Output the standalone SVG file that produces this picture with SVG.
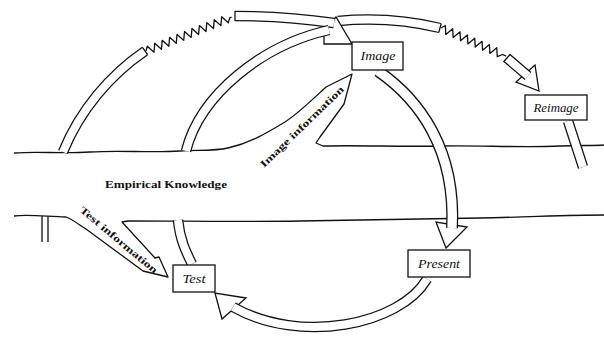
<svg xmlns="http://www.w3.org/2000/svg" width="604" height="341" viewBox="0 0 604 341">
<style>
.ln{fill:none;stroke:#111;stroke-width:1.3;stroke-linejoin:round}
.bo{fill:none;stroke:#111;stroke-width:10.5}
.bi{fill:none;stroke:#fff;stroke-width:8}
.bo2{fill:none;stroke:#111;stroke-width:12}
.bi2{fill:none;stroke:#fff;stroke-width:9.4}
.ah{fill:#fff;stroke:#111;stroke-width:1.3;stroke-linejoin:miter}
.box{fill:#fff;stroke:#111;stroke-width:1.3}
.lab{font-family:"Liberation Serif",serif;font-style:italic;font-size:12px;fill:#111;text-anchor:middle}
.info{font-family:"Liberation Serif",serif;font-size:10px;font-weight:600;fill:#111}
.emp{font-family:"Liberation Serif",serif;font-weight:bold;font-size:11px;fill:#111}
</style>
<defs>
<path id="pLeft" d="M63,152 C 80,110 110,75 145,51"/>
<path id="pTop" d="M235,16 C 270,16 305,19 334,23"/>
<path id="pRight" d="M338,21 C 380,17 415,22 440,28"/>
<path id="pShort" d="M507,58 L 528,76"/>
<path id="pTI" d="M186,151 C 200,95 262,45 329,30"/>
<path id="pIP" d="M378,71 C 420,100 456,150 452,228"/>
<path id="pPT" d="M427,279 C 400,325 300,345 233,307"/>
<path id="pTS" d="M178,220 C 180,240 186,252 192,264"/>
<path id="pRS" d="M568,121 L 583,167"/>
</defs>

<g id="river">
<path class="ln" d="M14,153 C 40,151 60,154 90,152 C 120,150 150,153 180,151 C 200,150 215,151 228,148 C 250,143 265,134 285,122 C 300,112 315,97 326,87 L 352,74 L 344,104 L 320,137 L 316,143 L 323,146 C 360,145 400,147 440,146 C 480,145 520,148 560,146 C 580,145 595,146 604,145"/>
<path class="ln" d="M14,216 C 30,214 50,217 66,217 C 72,219 78,224 86,229 L 143,271 L 168,277 L 159,257 L 155,258 L 122,222 L 128,221 C 180,221 240,222 300,221 C 360,220 420,219 480,218 C 530,217 570,215 604,215"/>
<text class="emp" x="105" y="188" textLength="122" lengthAdjust="spacingAndGlyphs">Empirical Knowledge</text>
<text class="info" transform="translate(79,211) rotate(40)" textLength="98" lengthAdjust="spacingAndGlyphs">Test information</text>
<text class="info" transform="translate(264,168) rotate(-44)" textLength="112" lengthAdjust="spacingAndGlyphs">Image information</text>
</g>

<g id="connectors">
<use href="#pLeft" class="bo"/><use href="#pLeft" class="bi"/>
<line class="ln" x1="142.4" y1="47.3" x2="147.6" y2="54.7"/>
<polyline class="ln" transform="translate(146,51) rotate(-21.6)" points="0,0 3,-4 7,4 11,-4 15,4 19,-4 23,4 27,-4 31,4 35,-4 39,4 43,-4 47,4 51,-4 55,4 59,-4 63,4 67,-4 71,4 75,-4 79,4 83,-4 87,4 90,0 92,0"/>
<use href="#pRight" class="bo"/><use href="#pRight" class="bi"/>
<line class="ln" x1="441.2" y1="23.6" x2="438.8" y2="32.4"/>
<polyline class="ln" transform="translate(441,28) rotate(23.3)" points="0,0 3,-4 7,4 11,-4 15,4 19,-4 23,4 27,-4 31,4 35,-4 39,4 43,-4 47,4 51,-4 55,4 59,-4 63,4 67,0 71,0"/>
<polygon class="ah" points="535,65 539,91 516,82"/>
<use href="#pShort" class="bo"/><use href="#pShort" class="bi"/>
<line class="ln" x1="503.5" y1="62" x2="510.5" y2="54"/>
<polygon class="ah" points="324,33 324,44 352,44 336,17"/>
<use href="#pTop" class="bo"/><use href="#pTop" class="bi"/>
<line class="ln" x1="235" y1="11" x2="235" y2="21"/>
<use href="#pTI" class="bo"/><use href="#pTI" class="bi"/>
<polygon class="ah" points="436,222 446,248 467,227"/>
<use href="#pIP" class="bo2"/><use href="#pIP" class="bi2"/>
<polygon class="ah" points="246,298 215,293 222,319"/>
<use href="#pPT" class="bo"/><use href="#pPT" class="bi"/>
<use href="#pTS" class="bo"/><use href="#pTS" class="bi"/>
<use href="#pRS" class="bo"/><use href="#pRS" class="bi"/>
<path class="ln" d="M42,216 L42,242 M48,216 L48,242"/>
</g>

<g id="image"><rect class="box" x="352" y="42" width="51" height="28"/><text class="lab" x="378" y="60" textLength="35" lengthAdjust="spacingAndGlyphs">Image</text></g>
<g id="reimage"><rect class="box" x="525" y="95" width="62" height="25"/><text class="lab" x="556" y="112" textLength="45" lengthAdjust="spacingAndGlyphs">Reimage</text></g>
<g id="present"><rect class="box" x="408" y="250" width="62" height="27"/><text class="lab" x="439" y="268" textLength="42" lengthAdjust="spacingAndGlyphs">Present</text></g>
<g id="test"><rect class="box" x="173" y="265" width="42" height="27"/><text class="lab" x="194" y="283" textLength="23" lengthAdjust="spacingAndGlyphs">Test</text></g>
</svg>
